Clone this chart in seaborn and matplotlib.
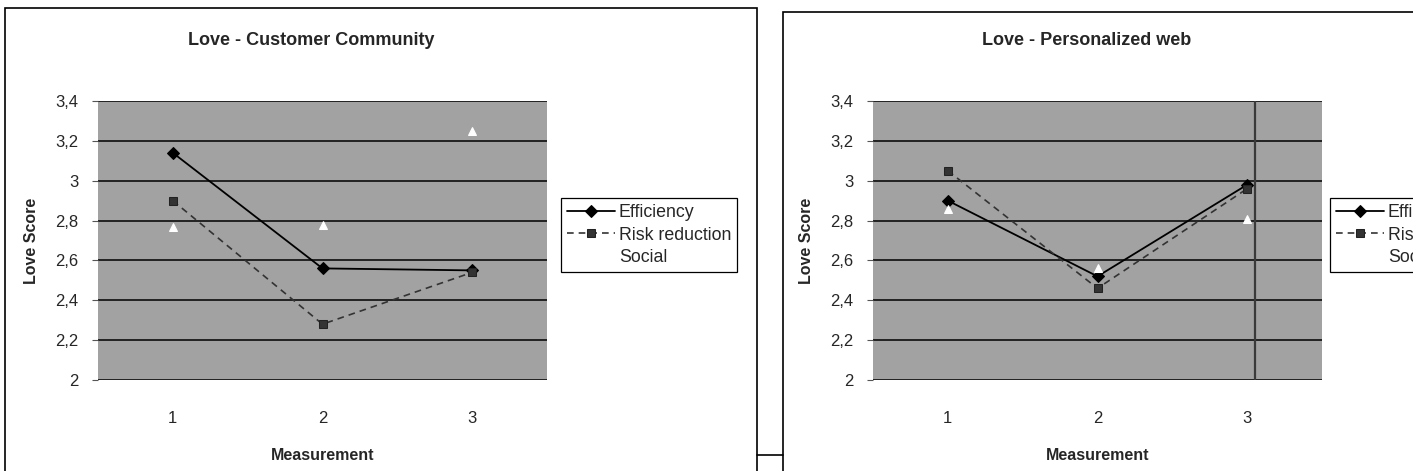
import matplotlib
matplotlib.use("Agg")
import matplotlib.pyplot as plt
from matplotlib.patches import Rectangle
from matplotlib.lines import Line2D
import seaborn as sns
import pandas as pd

# ---- data -------------------------------------------------------------
measurements = [1, 2, 3]
series_names = ["Efficiency", "Risk reduction", "Social"]

community_efficiency = [3.14, 2.56, 2.55]
community_risk = [2.90, 2.28, 2.54]
community_social = [2.77, 2.78, 3.25]

web_efficiency = [2.90, 2.52, 2.98]
web_risk = [3.05, 2.46, 2.96]
web_social = [2.86, 2.56, 2.81]

y_ticks = [2.0, 2.2, 2.4, 2.6, 2.8, 3.0, 3.2, 3.4]
y_tick_labels = ["2", "2,2", "2,4", "2,6", "2,8", "3", "3,2", "3,4"]
x_tick_labels = ["1", "2", "3"]

panels = [
    ("Love - Customer Community", [community_efficiency, community_risk, community_social]),
    ("Love - Personalized web", [web_efficiency, web_risk, web_social]),
]

# ---- styling ------------------------------------------------------------
sns.set_theme(style="white")
plt.rcParams["font.family"] = ["Liberation Sans", "DejaVu Sans"]

styles = {
    "Efficiency": dict(color="black", linestyle="-", linewidth=1.3, marker="D",
                       markersize=6, markeredgecolor="black"),
    "Risk reduction": dict(color="#333333", linestyle=(0, (4, 3)), linewidth=1.2, marker="s",
                           markersize=6, markeredgecolor="#222222"),
    "Social": dict(color="white", linestyle="none", linewidth=0, marker="^",
                   markersize=6, markeredgecolor="white"),
}

W, H = 1413, 471
fig = plt.figure(figsize=(W / 100, H / 100), dpi=100)
fig.patch.set_facecolor("white")

plot_w = 449
plot_top, plot_bottom = 101, 380
offsets = [98, 873]
legend_x = [561, 1330]
frame_x = [5, 783]
frame_top = [8, 12]

for i, (title, values) in enumerate(panels):
    x0 = offsets[i]
    ax = fig.add_axes([x0 / W, 1 - plot_bottom / H, plot_w / W, (plot_bottom - plot_top) / H])
    ax.set_facecolor("#a2a2a2")

    df = pd.DataFrame({
        "Measurement": measurements * 3,
        "Love Score": [v for s in values for v in s],
        "Series": [n for n in series_names for _ in measurements],
    })
    for name in series_names:
        sub = df[df["Series"] == name]
        sns.lineplot(data=sub, x="Measurement", y="Love Score", ax=ax, label=name,
                     **styles[name])

    ax.set_xlim(0.5, 3.5)
    ax.set_ylim(2.0, 3.4)
    ax.set_yticks(y_ticks)
    ax.set_yticklabels(y_tick_labels, fontsize=12)
    ax.set_xticks(measurements)
    ax.set_xticklabels(x_tick_labels, fontsize=12)
    ax.set_xticks([0.5, 1.5, 2.5, 3.5], minor=True)
    ax.tick_params(axis="x", which="major", length=0, pad=22)
    ax.tick_params(axis="x", which="minor", length=3, width=0.8, color="#555555", direction="out")
    ax.tick_params(axis="y", length=4, width=0.8, color="#555555", direction="out", pad=10,
                   left=True)
    ax.grid(axis="y", color="black", linewidth=1.1)
    ax.grid(axis="x", visible=False)
    ax.set_axisbelow(True)
    for sp in ax.spines.values():
        sp.set_visible(False)

    ax.set_xlabel("Measurement", fontsize=11.5, fontweight="bold", labelpad=16)
    ax.set_ylabel("Love Score", fontsize=11.5, fontweight="bold", labelpad=12)
    ax.set_title(title, fontsize=13, fontweight="bold", pad=40, x=0.475)

    if i == 1:
        ax.axvline(3.05, color="#3a3a3a", linewidth=1.6, zorder=1.5)

    handles, labels = ax.get_legend_handles_labels()
    ax.get_legend().remove()
    leg = fig.legend(handles, labels, loc="upper left",
                     bbox_to_anchor=(legend_x[i] / W, 1 - 198 / H),
                     frameon=True, fancybox=False, edgecolor="black", framealpha=1,
                     fontsize=12.8, handlelength=2.7, handletextpad=0.2,
                     labelspacing=0.3, borderpad=0.35, borderaxespad=0)
    leg.get_frame().set_linewidth(0.9)

    # chart area frame
    fig.add_artist(Rectangle((frame_x[i] / W, -0.05), 752 / W, 1 - frame_top[i] / H + 0.05,
                             transform=fig.transFigure, fill=False,
                             edgecolor="black", linewidth=1.2))

fig.add_artist(Line2D([757 / W, 783 / W], [1 - 455 / H, 1 - 455 / H],
                      transform=fig.transFigure, color="black", linewidth=1.2))

fig.savefig("out.png", dpi=100, facecolor="white")
